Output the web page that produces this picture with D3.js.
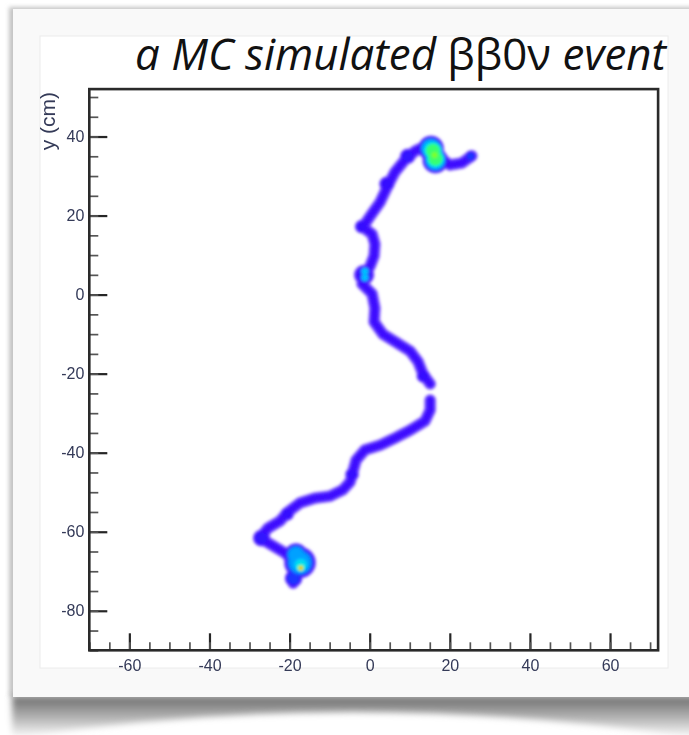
<!DOCTYPE html>
<html>
<head>
<meta charset="utf-8">
<script src="https://d3js.org/d3.v7.min.js"></script>
<style>
	html, body { margin: 0; padding: 0; background: #fff; }
	svg { display: block; }
</style>
</head>
<body>
<script>
(function() {
	'use strict';

	// DATA //

	// Axis ranges and tick labels (cm):
	var xDomain = [ -70, 72 ],
		yDomain = [ -90, 52 ],
		xTicks = [ -60, -40, -20, 0, 20, 40, 60 ],
		yTicks = [ -80, -60, -40, -20, 0, 20, 40 ];

	// Track centre line (x, y in cm), split where the track shows a gap:
	var trackLower = [
		[ -19.1, -73.0 ], [ -17.9, -68.7 ], [ -21.1, -65.4 ], [ -24.4, -63.4 ],
		[ -27.4, -61.6 ], [ -25.4, -59.1 ], [ -22.4, -57.3 ], [ -20.4, -55.0 ],
		[ -17.4, -52.7 ], [ -13.7, -51.5 ], [ -9.9, -51.0 ], [ -6.7, -49.4 ],
		[ -4.9, -47.4 ], [ -4.2, -44.9 ], [ -3.4, -41.9 ], [ -1.2, -39.3 ],
		[ 2.6, -38.1 ], [ 6.3, -36.3 ], [ 10.1, -34.3 ], [ 13.8, -32.0 ],
		[ 15.1, -29.2 ], [ 15.1, -26.7 ]
	];
	var trackUpper = [
		[ 15.1, -22.6 ], [ 13.3, -20.1 ], [ 12.1, -17.0 ], [ 10.1, -14.3 ],
		[ 6.8, -12.2 ], [ 3.3, -10.0 ], [ 1.1, -6.9 ], [ 1.3, -3.4 ],
		[ 0.6, 0.2 ], [ -1.9, 2.7 ], [ -1.2, 5.0 ], [ 0.1, 7.2 ],
		[ 1.1, 9.8 ], [ 1.3, 12.8 ], [ 0.6, 15.3 ], [ -1.7, 17.1 ],
		[ 0.3, 20.1 ], [ 2.6, 23.4 ], [ 4.6, 27.7 ], [ 6.3, 31.0 ],
		[ 8.8, 34.1 ], [ 11.3, 36.3 ], [ 14.6, 37.9 ], [ 16.8, 35.3 ],
		[ 20.0, 32.8 ], [ 23.0, 33.3 ], [ 25.5, 35.1 ]
	];

	// Energy deposits along the track (centre in cm, level reached, spread in cm):
	var spotX = [ 15.3, 16.4, 15.8, 16.4, 16.2, -17.4, -19.0, -18.4, -17.2, -17.2, -17.2, -1.4, -1.2, -1.2, 25.2, -27.0, 4.3, -2.0, -4.4, 13.4, -20.6, 9.5 ],
		spotY = [ 37.0, 33.9, 36.4, 34.4, 35.3, -67.8, -71.8, -65.8, -68.4, -69.2, -69.2, 5.0, 4.3, 5.9, 35.0, -61.6, 28.0, 17.2, -45.5, -20.6, -55.5, 35.0 ],
		spotE = [ 0.44, 0.44, 0.62, 0.62, 0.7, 0.42, 0.30, 0.42, 0.5, 0.8, 0.95, 0.22, 0.46, 0.46, 0.3, 0.24, 0.22, 0.22, 0.22, 0.22, 0.22, 0.24 ],
		spotR = [ 2.9, 2.9, 2.4, 2.4, 1.0, 3.6, 2.0, 2.6, 2.0, 0.8, 0.4, 2.4, 1.1, 1.1, 1.3, 2.0, 1.8, 1.6, 1.6, 1.6, 1.6, 1.8 ];

	// Colour palette levels:
	var paletteLevels = [ 0.04, 0.12, 0.2, 0.3, 0.38, 0.46, 0.55, 0.65, 0.75, 0.85, 0.95 ],
		paletteColors = [ '#9a78ff', '#5a26ff', '#3508ff', '#1a40ff', '#0090ff', '#00d4ff', '#10ffb0', '#60ff30', '#d8ff00', '#ffb000', '#ff2000' ];


	// VARIABLES //

	var WIDTH = 689,
		HEIGHT = 735,
		LEFT = 89.3,
		RIGHT = 658.1,
		TOP = 89.1,
		BOTTOM = 650.3,
		TRACK_LEVEL = 0.2,
		TRACK_HALF = 5.2,
		LABEL_COLOR = '#343a58';

	var x = d3.scaleLinear().domain( xDomain ).range( [ LEFT, RIGHT ] ),
		y = d3.scaleLinear().domain( yDomain ).range( [ BOTTOM, TOP ] ),
		color = d3.scaleLinear().domain( paletteLevels ).range( paletteColors ).clamp( true );


	// CANVAS //

	var svg = d3.select( 'body' ).append( 'svg' )
		.attr( 'width', WIDTH )
		.attr( 'height', HEIGHT )
		.attr( 'viewBox', '0 0 ' + WIDTH + ' ' + HEIGHT );

	var defs = svg.append( 'defs' );

	function blur( id, s ) {
		defs.append( 'filter' )
			.attr( 'id', id )
			.attr( 'x', '-20%' ).attr( 'y', '-20%' )
			.attr( 'width', '140%' ).attr( 'height', '140%' )
			.append( 'feGaussianBlur' )
			.attr( 'stdDeviation', s );
	}
	blur( 'blurCard', 2 );
	blur( 'blurShadow', 3 );
	blur( 'blurHeat', 1.4 );
	blur( 'blurText', 0.45 );

	var grad = defs.append( 'linearGradient' )
		.attr( 'id', 'shadowGrad' )
		.attr( 'x1', 0 ).attr( 'y1', 0 )
		.attr( 'x2', 0 ).attr( 'y2', 1 );
	grad.append( 'stop' ).attr( 'offset', '0%' ).attr( 'stop-color', '#6c6c6c' );
	grad.append( 'stop' ).attr( 'offset', '55%' ).attr( 'stop-color', '#b8b8b8' );
	grad.append( 'stop' ).attr( 'offset', '100%' ).attr( 'stop-color', '#ffffff' );

	// Photo card with its shadows:
	svg.append( 'rect' )
		.attr( 'x', 9 ).attr( 'y', 7 )
		.attr( 'width', 700 ).attr( 'height', 690 )
		.attr( 'fill', '#c4c4c4' )
		.attr( 'filter', 'url(#blurCard)' );

	svg.append( 'path' )
		.attr( 'd', 'M12,696 L700,696 L700,738 Q350,686 12,738 Z' )
		.attr( 'fill', 'url(#shadowGrad)' )
		.attr( 'filter', 'url(#blurShadow)' );

	svg.append( 'rect' )
		.attr( 'x', 13 ).attr( 'y', 9 )
		.attr( 'width', 690 ).attr( 'height', 688 )
		.attr( 'fill', '#f9f9f9' );

	svg.append( 'rect' )
		.attr( 'x', 40 ).attr( 'y', 36 )
		.attr( 'width', 628 ).attr( 'height', 632 )
		.attr( 'fill', '#ffffff' )
		.attr( 'stroke', '#ececec' );


	// HEAT MAP //

	var X0 = Math.floor( LEFT ),
		Y0 = Math.floor( TOP ),
		W = Math.ceil( RIGHT ) - X0,
		H = Math.ceil( BOTTOM ) - Y0,
		grid = new Float64Array( W * H );

	/**
	* FUNCTION: splatTrack( pts )
	*	Writes the track profile of a polyline into the grid (max).
	*/
	function splatTrack( pts ) {
		var M = 10, i, j, k, ax, ay, bx, by, dx, dy, len2, t, ex, ey, d, v, px, py, x0, x1, y0, y1;
		for ( i = 0; i < pts.length - 1; i++ ) {
			ax = x( pts[ i ][ 0 ] ) - X0;
			ay = y( pts[ i ][ 1 ] ) - Y0;
			bx = x( pts[ i + 1 ][ 0 ] ) - X0;
			by = y( pts[ i + 1 ][ 1 ] ) - Y0;
			dx = bx - ax;
			dy = by - ay;
			len2 = dx * dx + dy * dy;
			x0 = Math.max( 0, Math.floor( Math.min( ax, bx ) - M ) );
			x1 = Math.min( W - 1, Math.ceil( Math.max( ax, bx ) + M ) );
			y0 = Math.max( 0, Math.floor( Math.min( ay, by ) - M ) );
			y1 = Math.min( H - 1, Math.ceil( Math.max( ay, by ) + M ) );
			for ( j = y0; j <= y1; j++ ) {
				for ( k = x0; k <= x1; k++ ) {
					px = k + 0.5;
					py = j + 0.5;
					t = len2 ? ( ( px - ax ) * dx + ( py - ay ) * dy ) / len2 : 0;
					t = Math.max( 0, Math.min( 1, t ) );
					ex = ax + t * dx - px;
					ey = ay + t * dy - py;
					d = ( ex * ex + ey * ey ) / ( TRACK_HALF * TRACK_HALF );
					v = TRACK_LEVEL * Math.exp( -d * d );
					if ( v > grid[ j * W + k ] ) {
						grid[ j * W + k ] = v;
					}
				}
			}
		}
	} // end FUNCTION splatTrack()

	/**
	* FUNCTION: splatSpot( i )
	*	Writes one flat-topped energy deposit into the grid (max).
	*/
	function splatSpot( i ) {
		var cx = x( spotX[ i ] ) - X0,
			cy = y( spotY[ i ] ) - Y0,
			rx = Math.abs( x( spotR[ i ] ) - x( 0 ) ),
			ry = Math.abs( y( spotR[ i ] ) - y( 0 ) ),
			x0 = Math.max( 0, Math.floor( cx - 2 * rx ) ),
			x1 = Math.min( W - 1, Math.ceil( cx + 2 * rx ) ),
			y0 = Math.max( 0, Math.floor( cy - 2 * ry ) ),
			y1 = Math.min( H - 1, Math.ceil( cy + 2 * ry ) ),
			j, k, u, w, q, v;
		for ( j = y0; j <= y1; j++ ) {
			for ( k = x0; k <= x1; k++ ) {
				u = ( k + 0.5 - cx ) / rx;
				w = ( j + 0.5 - cy ) / ry;
				q = u * u + w * w;
				q = q * q;
				v = spotE[ i ] * Math.exp( -q * q );
				if ( v > grid[ j * W + k ] ) {
					grid[ j * W + k ] = v;
				}
			}
		}
	} // end FUNCTION splatSpot()

	splatTrack( trackLower );
	splatTrack( trackUpper );
	spotX.forEach( function( d, i ) {
		splatSpot( i );
	});

	var contours = d3.contours()
		.size( [ W, H ] )
		.thresholds( d3.range( 0.04, 1.01, 0.02 ) )( grid );

	svg.append( 'g' )
		.attr( 'class', 'heat' )
		.attr( 'transform', 'translate(' + X0 + ',' + Y0 + ')' )
		.attr( 'filter', 'url(#blurHeat)' )
		.selectAll( 'path' )
		.data( contours )
		.enter().append( 'path' )
		.attr( 'd', d3.geoPath() )
		.attr( 'fill', function( d ) {
			return color( d.value );
		});


	// AXES //

	var fmt = function( d ) {
		return String( d );
	};

	var axes = svg.append( 'g' )
		.attr( 'class', 'axes' );

	var xMajor = axes.append( 'g' )
		.attr( 'transform', 'translate(0,' + BOTTOM + ')' )
		.call( d3.axisBottom( x ).tickValues( xTicks ).tickFormat( fmt ).tickSize( -17 ).tickPadding( 9 ) );
	var xMinor = axes.append( 'g' )
		.attr( 'transform', 'translate(0,' + BOTTOM + ')' )
		.call( d3.axisBottom( x ).tickValues( d3.range( -70, 72, 5 ) ).tickFormat( '' ).tickSize( -8 ) );
	var yMajor = axes.append( 'g' )
		.attr( 'transform', 'translate(' + LEFT + ',0)' )
		.call( d3.axisLeft( y ).tickValues( yTicks ).tickFormat( fmt ).tickSize( -18 ).tickPadding( 5 ) );
	var yMinor = axes.append( 'g' )
		.attr( 'transform', 'translate(' + LEFT + ',0)' )
		.call( d3.axisLeft( y ).tickValues( d3.range( -90, 52, 5 ) ).tickFormat( '' ).tickSize( -9 ) );

	[ xMajor, xMinor, yMajor, yMinor ].forEach( function( g ) {
		g.select( '.domain' ).remove();
		g.attr( 'filter', 'url(#blurText)' );
		g.selectAll( '.tick line' ).attr( 'stroke', '#262626' );
		g.selectAll( 'text' )
			.attr( 'fill', LABEL_COLOR )
			.style( 'font-family', '"Liberation Sans", Arial, sans-serif' )
			.style( 'font-size', '16px' );
	});
	xMajor.selectAll( '.tick line' ).attr( 'stroke-width', 2.2 );
	yMajor.selectAll( '.tick line' ).attr( 'stroke-width', 2.2 );
	xMinor.selectAll( '.tick line' ).attr( 'stroke-width', 1.7 ).attr( 'stroke', '#555' );
	yMinor.selectAll( '.tick line' ).attr( 'stroke-width', 1.7 ).attr( 'stroke', '#555' );

	// Frame:
	axes.append( 'rect' )
		.attr( 'x', LEFT ).attr( 'y', TOP )
		.attr( 'width', RIGHT - LEFT ).attr( 'height', BOTTOM - TOP )
		.attr( 'fill', 'none' )
		.attr( 'stroke', '#2a2a2a' )
		.attr( 'stroke-width', 2.6 )
		.attr( 'filter', 'url(#blurText)' );

	// Axis title:
	svg.append( 'text' )
		.attr( 'transform', 'translate(55,92) rotate(-90)' )
		.attr( 'text-anchor', 'end' )
		.attr( 'fill', LABEL_COLOR )
		.attr( 'filter', 'url(#blurText)' )
		.style( 'font-family', '"Liberation Sans", Arial, sans-serif' )
		.style( 'font-size', '21px' )
		.text( 'y (cm)' );


	// TITLE //

	var title = svg.append( 'text' )
		.attr( 'x', 666 )
		.attr( 'y', 70 )
		.attr( 'text-anchor', 'end' )
		.attr( 'fill', '#111' )
		.style( 'font-family', '"Open Sans", "Noto Sans", sans-serif' )
		.style( 'font-size', '40px' );
	title.append( 'tspan' ).style( 'font-style', 'italic' ).text( 'a MC simulated ' );
	title.append( 'tspan' ).text( 'ββ0ν' );
	title.append( 'tspan' ).style( 'font-style', 'italic' ).text( ' event' );

	// Fit the title to its width in the picture:
	var len = title.node().getComputedTextLength();
	title.style( 'font-size', ( 40 * 531 / len ).toFixed( 2 ) + 'px' );

})();
</script>
</body>
</html>
